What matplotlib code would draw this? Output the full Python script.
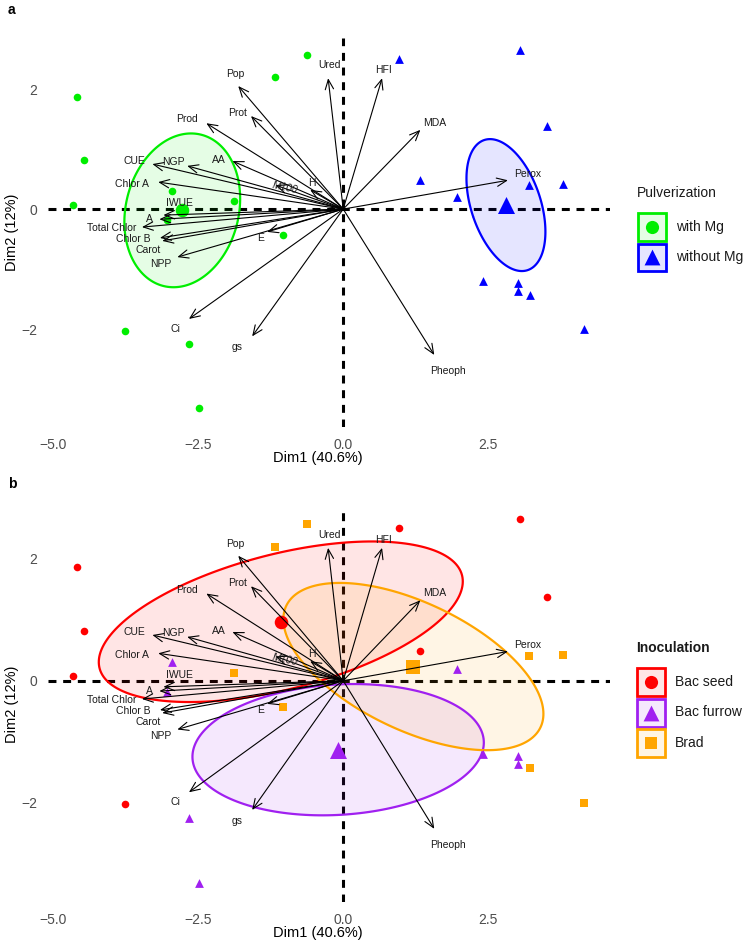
import numpy as np
import matplotlib
matplotlib.use("Agg")
import matplotlib.pyplot as plt
from matplotlib.patches import Polygon, Rectangle

plt.rcParams['font.family'] = ['Liberation Sans', 'DejaVu Sans']

# individuals (PCA scores)
dim1 = [-4.59, -4.47, -4.66, -2.95, -1.88, -1.17, -0.62, -1.03, -3.76, -2.66, -2.48, -3.03,
        0.97, 3.05, 3.52, 1.33, 1.97, 3.21, 3.79, 2.41, 3.02, 3.02, 3.22, 4.16]
dim2 = [1.87, 0.82, 0.07, 0.30, 0.13, 2.20, 2.57, -0.43, -2.03, -2.25, -3.32, -0.18,
        2.50, 2.65, 1.38, 0.48, 0.20, 0.40, 0.42, -1.20, -1.23, -1.37, -1.43, -2.00]
pulverization = ["with Mg"] * 12 + ["without Mg"] * 12
inoculation = ["Bac seed", "Bac seed", "Bac seed", "Bac furrow", "Brad", "Brad", "Brad", "Brad",
               "Bac seed", "Bac furrow", "Bac furrow", "Bac furrow",
               "Bac seed", "Bac seed", "Bac seed", "Bac seed", "Bac furrow", "Brad", "Brad",
               "Bac furrow", "Bac furrow", "Bac furrow", "Brad", "Brad"]

# variables (arrow tips)
var_names = ["Ured", "Pop", "Prot", "Prod", "AA", "NGP", "CUE", "Chlor A", "M100", "H",
             "IWUE", "A", "Total Chlor", "Chlor B", "Carot", "NPP", "E", "Ci", "gs",
             "Pheoph", "HFI", "MDA", "Perox"]
var_x = [-0.26, -1.81, -1.59, -2.36, -1.91, -2.69, -3.29, -3.19, -1.17, -0.57,
         -3.10, -3.17, -3.47, -3.16, -3.12, -2.86, -1.31, -2.66, -1.57,
         1.57, 0.67, 1.33, 2.84]
var_y = [2.18, 2.05, 1.55, 1.43, 0.80, 0.72, 0.75, 0.45, 0.40, 0.32,
         -0.10, -0.17, -0.30, -0.48, -0.53, -0.80, -0.38, -1.83, -2.12,
         -2.43, 2.18, 1.32, 0.48]

# label offsets from the arrow tip, in pixels (dx right, dy up)
label_off = {"Ured": (1, 13), "Pop": (-3, 12), "Prot": (-13, 3), "Prod": (-19, 4),
             "AA": (-14, 1), "NGP": (-14, 4), "CUE": (-18, 3), "Chlor A": (-26, -2),
             "M100": (10, -3), "H": (2, 7), "IWUE": (16, 12), "A": (-10, 0),
             "Total Chlor": (-30, -1), "Chlor B": (-27, -1), "Carot": (-14, -9),
             "NPP": (-17, -7), "E": (-7, -6), "Ci": (-13, -10), "gs": (-15, -11),
             "Pheoph": (14, -16), "HFI": (1, 8), "MDA": (14, 7), "Perox": (20, 6)}

W, H = 750, 944
fig = plt.figure(figsize=(W / 100, H / 100), dpi=100)


def px_axes(x0, y0, x1, y1):
    return fig.add_axes([x0 / W, 1 - y1 / H, (x1 - x0) / W, (y1 - y0) / H])


def conf_ellipse(x, y, level=0.95, n=200):
    x, y = np.asarray(x), np.asarray(y)
    cov = np.cov(x, y) / len(x)
    vals, vecs = np.linalg.eigh(cov)
    r = np.sqrt(-2 * np.log(1 - level))
    t = np.linspace(0, 2 * np.pi, n)
    circ = np.vstack([np.cos(t), np.sin(t)]) * np.sqrt(vals)[:, None] * r
    pts = vecs @ circ
    return np.column_stack([pts[0] + x.mean(), pts[1] + y.mean()])


def panel(ax, groups, levels, colors, markers, sizes, big_sizes):
    d1 = np.array(dim1)
    d2 = np.array(dim2)
    g = np.array(groups)
    ax.axhline(0, color='black', lw=2.2, ls=(0, (2.6, 2.2)), zorder=1)
    ax.axvline(0, color='black', lw=2.2, ls=(0, (2.6, 2.2)), zorder=1)
    for lev, col in zip(levels, colors):
        m = g == lev
        pts = conf_ellipse(d1[m], d2[m])
        ax.add_patch(Polygon(pts, closed=True, facecolor=col, alpha=0.1, edgecolor='none', zorder=2))
        ax.add_patch(Polygon(pts, closed=True, facecolor='none', edgecolor=col, lw=1.6, zorder=3))
    for lev, col, mk, s, bs in zip(levels, colors, markers, sizes, big_sizes):
        m = g == lev
        ax.scatter(d1[m], d2[m], s=s, marker=mk, color=col, linewidths=0, zorder=4)
        ax.scatter([d1[m].mean()], [d2[m].mean()], s=bs, marker=mk, color=col, linewidths=0, zorder=4)
    for name, vx, vy in zip(var_names, var_x, var_y):
        ax.annotate('', xy=(vx, vy), xytext=(0, 0),
                    arrowprops=dict(arrowstyle='->,head_length=0.7,head_width=0.3',
                                    mutation_scale=10, lw=0.8, color='black',
                                    shrinkA=0, shrinkB=0), zorder=5)
        dx, dy = label_off[name]
        kw = {}
        if name == "M100":
            kw = dict(style='italic', rotation=-12)
        ax.annotate(name, xy=(vx, vy), xytext=(dx * 0.72, dy * 0.72),
                    textcoords='offset points', ha='center', va='center',
                    fontsize=7.5, color='#1A1A1A', zorder=6, **kw)
    ax.set_xlim(-5.09, 4.6)
    ax.set_ylim(-3.63, 2.85)
    ax.set_xticks([-5.0, -2.5, 0.0, 2.5])
    ax.set_xticklabels(['\u22125.0', '\u22122.5', '0.0', '2.5'])
    ax.set_yticks([-2, 0, 2])
    ax.set_yticklabels(['\u22122', '0', '2'])
    ax.tick_params(length=0, labelsize=10, labelcolor='#4D4D4D', pad=8)
    for sp in ax.spines.values():
        sp.set_visible(False)
    ax.set_xlabel('Dim1 (40.6%)', fontsize=10.5)
    ax.set_ylabel('Dim2 (12%)', fontsize=10.5)
    ax.xaxis.set_label_coords(0.48, -0.062)
    ax.yaxis.set_label_coords(-0.052, 0.5)


def legend(x0, y0, title, levels, colors, markers, msizes, bold):
    lax = px_axes(x0, y0, x0 + 112, y0 + 30 * len(levels) + 40)
    lax.set_xlim(x0, x0 + 112)
    lax.set_ylim(y0 + 30 * len(levels) + 40, y0)
    lax.axis('off')
    lax.text(x0 + 1, y0 + 8, title, fontsize=10, va='center', ha='left',
             fontweight='bold' if bold else 'normal', color='#1A1A1A')
    for i, (lev, col, mk, ms) in enumerate(zip(levels, colors, markers, msizes)):
        top = y0 + 28 + 30.5 * i
        lax.add_patch(Rectangle((x0 + 2, top), 28, 28, facecolor=col, alpha=0.1, edgecolor='none'))
        lax.add_patch(Rectangle((x0 + 2, top), 28, 28, facecolor='none', edgecolor=col, lw=2))
        lax.scatter([x0 + 16], [top + 14], s=ms, marker=mk, color=col, linewidths=0)
        lax.text(x0 + 40, top + 14, lev, fontsize=10, va='center', ha='left', color='#1A1A1A')


# panel a
mg_levels = ["with Mg", "without Mg"]
mg_colors = ["#00EE00", "#0000FF"]
ax1 = px_axes(48, 38, 610, 427)
panel(ax1, pulverization, mg_levels, mg_colors, ["o", "^"], [30, 40], [95, 150])
legend(636, 185, "Pulverization", mg_levels, mg_colors, ["o", "^"], [90, 130], False)

# panel b
ino_levels = ["Bac seed", "Bac furrow", "Brad"]
ino_colors = ["#FF0000", "#A020F0", "#FFA500"]
ax2 = px_axes(48, 507, 610, 902)
panel(ax2, inoculation, ino_levels, ino_colors, ["o", "^", "s"], [30, 40, 30], [95, 150, 110])
legend(635, 640, "Inoculation", ino_levels, ino_colors, ["o", "^", "s"], [90, 130, 80], True)

fig.text(8 / W, 1 - 10 / H, 'a', fontsize=10, fontweight='bold', va='center')
fig.text(8 / W, 1 - 484 / H, 'b', fontsize=10, fontweight='bold', va='center')

fig.savefig('out.png', dpi=100)
